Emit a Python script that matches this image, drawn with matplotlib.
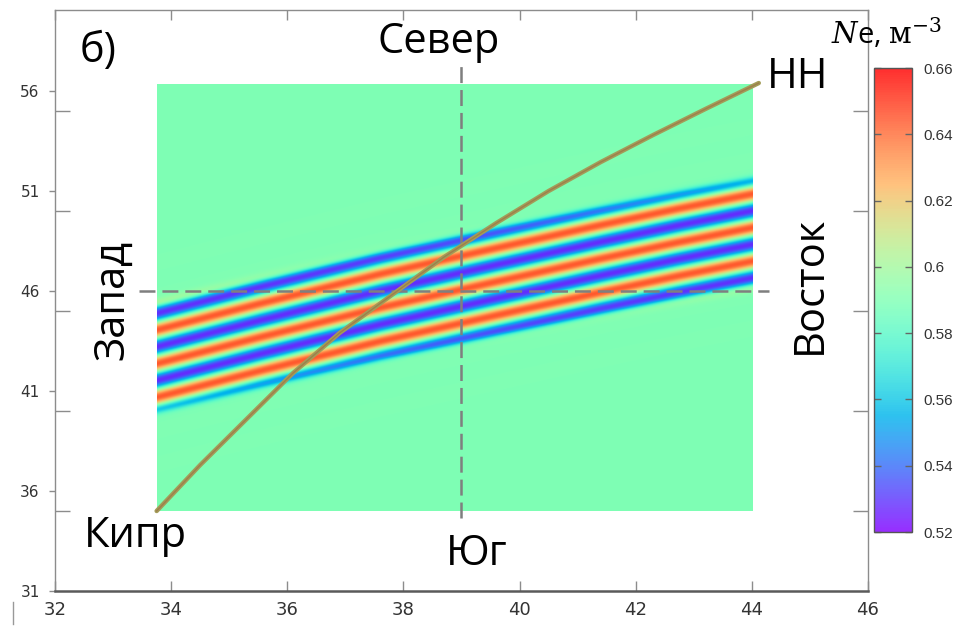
import numpy as np
import matplotlib
matplotlib.use("Agg")
import matplotlib.pyplot as plt
import matplotlib as mpl
from matplotlib.lines import Line2D

plt.rcParams['lines.scale_dashes'] = False
plt.rcParams['mathtext.fontset'] = 'dejavuserif'

# --- data ---
# great-circle path Кипр -> НН (lon, lat)
path_lon = [33.75, 34.5, 35.3, 36.1, 36.9, 37.8, 38.7, 39.6, 40.5, 41.4, 42.3, 43.2, 44.12]
path_lat = [35.0, 37.3, 39.6, 41.9, 43.9, 45.8, 47.7, 49.4, 51.0, 52.45, 53.8, 55.1, 56.4]

# centre of the first (top) blue stripe of the disturbance band
stripe_lon = [33.75, 35.5, 37.6, 39.6, 41.4, 42.7, 44.0]
stripe_lat = [44.9, 46.2, 47.7, 49.0, 50.15, 50.95, 51.7]
band_width = 5.05        # deg between first and last blue stripe
n_periods = 3
ne_background = 0.59
ne_amp = 0.058
ne_shift = -0.004

img_extent = [33.75, 44.0, 35.0, 56.35]   # lon0, lon1, lat0, lat1
cross_lon = 39.0
cross_lat = 46.0

cbar_ticks = [0.52, 0.54, 0.56, 0.58, 0.6, 0.62, 0.64, 0.66]
cbar_labels = ["0.52", "0.54", "0.56", "0.58", "0.6", "0.62", "0.64", "0.66"]
x_ticks = [32, 34, 36, 38, 40, 42, 44, 46]
y_ticks = [31, 36, 41, 46, 51, 56]
y_minor = [35, 40, 45, 50, 55]

# --- field ---
nx, ny = 500, 800
gx = np.linspace(img_extent[0], img_extent[1], nx)
gy = np.linspace(img_extent[2], img_extent[3], ny)
X, Y = np.meshgrid(gx, gy)
top = np.interp(X, stripe_lon, stripe_lat)
u = (top - Y) / band_width
t = (X - img_extent[0]) / (img_extent[1] - img_extent[0])
u0 = -0.1 + 0.12 * t
u1 = 0.97 + 0.12 * t
w = 0.04
env = 0.5 * (np.tanh((u - u0) / w) - np.tanh((u - u1) / w))
field = ne_background + env * (ne_shift - ne_amp * np.cos(2 * np.pi * n_periods * u))

cmap = plt.get_cmap('rainbow')
norm = mpl.colors.Normalize(vmin=0.52, vmax=0.66)

fig = plt.figure(figsize=(9.7, 6.27), dpi=100)
ax = fig.add_axes([0.0567, 0.0574, 0.8381, 0.9266])

ax.imshow(field, extent=img_extent, origin='lower', aspect='auto',
          cmap=cmap, norm=norm, interpolation='bilinear', zorder=1)

ax.plot([cross_lon, cross_lon], [34.65, 57.3], color='#7f7f7f', lw=1.8,
        dashes=(11.5, 5), zorder=2)
ax.plot([33.45, 44.3], [cross_lat, cross_lat], color='#7f7f7f', lw=1.8,
        dashes=(11.5, 5), zorder=2)

ax.plot(path_lon, path_lat, color='#a39c58', lw=3.2, solid_capstyle='round',
        solid_joinstyle='round', zorder=3)
ax.plot(path_lon, path_lat, color='#9a6c45', lw=1.0, alpha=0.6, zorder=4)

ax.set_xlim(32, 46)
ax.set_ylim(31, 60.05)

for s in ['left', 'right', 'top']:
    ax.spines[s].set_color('#8c8c8c')
    ax.spines[s].set_linewidth(1.0)
ax.spines['bottom'].set_color('#5a5a5a')
ax.spines['bottom'].set_linewidth(1.8)

ax.set_xticks(x_ticks)
ax.set_xticklabels([str(v) for v in x_ticks])
ax.set_yticks(y_ticks)
ax.set_yticklabels([str(v) for v in y_ticks])
ax.set_yticks(y_minor, minor=True)
ax.tick_params(axis='x', which='major', direction='in', top=True, bottom=True,
               length=7, width=1, color='#8c8c8c', labelsize=13, pad=7,
               labelcolor='#333333')
ax.tick_params(axis='y', which='major', direction='out', left=True, right=False,
               length=4, width=1, color='#8c8c8c', labelsize=11, pad=7,
               labelcolor='#333333')
ax.tick_params(axis='y', which='minor', direction='in', left=True, right=True,
               length=11, width=1, color='#8c8c8c')
for lbl in ax.get_xticklabels():
    lbl.set_family(['Liberation Sans Narrow', 'DejaVu Sans'])
for lbl in ax.get_yticklabels():
    lbl.set_family(['DejaVu Sans'])

big = dict(family=['Open Sans', 'DejaVu Sans'], fontsize=30, color='black', zorder=5)
ax.text(32.43, 57.45, "б)", ha='left', va='baseline', **big)
ax.text(38.61, 57.9, "Север", ha='center', va='baseline', **big)
ax.text(44.26, 56.15, "НН", ha='left', va='baseline', **big)
ax.text(32.5, 33.2, "Кипр", ha='left', va='baseline', **big)
ax.text(39.27, 32.3, "Юг", ha='center', va='baseline', **big)
ax.text(32.98, 45.55, "Запад", ha='center', va='center', rotation=90, **big)
ax.text(45.0, 46.3, "Восток", ha='center', va='center', rotation=90, **big)

# colorbar
cax = fig.add_axes([0.901, 0.1515, 0.039, 0.740])
cb = mpl.colorbar.ColorbarBase(cax, cmap=cmap, norm=norm, alpha=0.82, ticks=cbar_ticks)
cb.set_ticklabels(cbar_labels)
cb.outline.set_edgecolor('#555555')
cb.outline.set_linewidth(1.0)
cax.tick_params(direction='in', left=True, right=True, length=5, width=1,
                color='#666666', labelsize=11, pad=8, labelcolor='#333333')
for lbl in cax.get_yticklabels():
    lbl.set_family(['Liberation Sans', 'DejaVu Sans'])

fig.text(0.857, 0.93, r"$N$e, $\mathrm{м}^{-3}$", fontsize=21, ha='left', va='baseline',
         family=['Open Sans', 'DejaVu Sans'])

# small scan artefact at bottom-left edge
fig.add_artist(Line2D([0.013, 0.013], [0.005, 0.04], color='#999999', lw=1))

fig.savefig("out.png", dpi=100)
